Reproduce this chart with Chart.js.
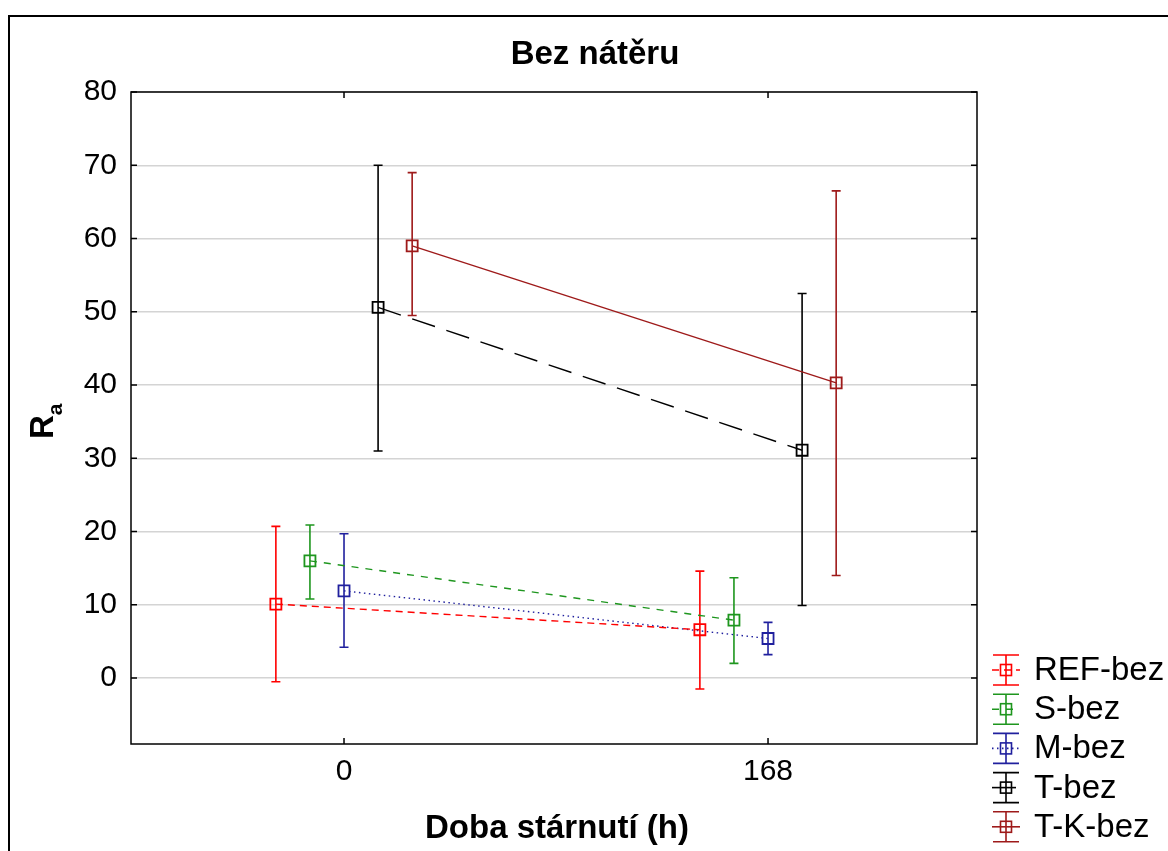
<!DOCTYPE html>
<html>
<head>
<meta charset="utf-8">
<script src="https://cdn.jsdelivr.net/npm/chart.js@4.4.1/dist/chart.umd.min.js"></script>
<style>
  html, body { margin: 0; padding: 0; background: #fff; }
  #wrap { position: relative; width: 1168px; height: 851px; }
</style>
</head>
<body>
<div id="wrap"><canvas id="chart"></canvas></div>
<script>
const times = [0, 168]
const yTicks = [0, 10, 20, 30, 40, 50, 60, 70, 80]
const seriesNames = ['REF-bez', 'S-bez', 'M-bez', 'T-bez', 'T-K-bez']
// small shift in hours so the groups don't overlap
const dodge = [-27, -13.5, 0, 13.5, 27]

const refMean = [10.1, 6.6]
const refLow = [-0.5, -1.5]
const refHigh = [20.7, 14.6]

const sMean = [16.0, 7.9]
const sLow = [10.8, 2.0]
const sHigh = [20.9, 13.7]

const mMean = [11.9, 5.4]
const mLow = [4.2, 3.2]
const mHigh = [19.7, 7.6]

const tMean = [50.6, 31.1]
const tLow = [31.0, 9.9]
const tHigh = [70.0, 52.5]

const tkMean = [59.0, 40.3]
const tkLow = [49.5, 14.0]
const tkHigh = [69.0, 66.5]

const FONT = "'Liberation Sans', Arial, sans-serif"

const styles = [
  { color: '#ff0000', dash: [7, 5] },
  { color: '#1e961e', dash: [7, 7] },
  { color: '#20209e', dash: [1.5, 3.5] },
  { color: '#000000', dash: [24, 12] },
  { color: '#9e1a1a', dash: [] }
]

function makeSeries(i, mean, low, high) {
  return {
    label: seriesNames[i],
    data: times.map((t, j) => ({ x: t + dodge[i], y: mean[j] })),
    errLow: low,
    errHigh: high,
    borderColor: styles[i].color,
    borderDash: styles[i].dash,
    borderWidth: 1.4,
    showLine: true,
    tension: 0,
    pointStyle: 'rect',
    pointRadius: 7.8,
    pointHoverRadius: 7.8,
    pointBorderWidth: 1.8,
    pointBackgroundColor: 'rgba(0,0,0,0)',
    pointBorderColor: styles[i].color
  }
}

const errorBars = {
  id: 'errorBars',
  beforeDatasetsDraw(chart) {
    const ctx = chart.ctx
    const ys = chart.scales.y
    chart.data.datasets.forEach((ds, i) => {
      const meta = chart.getDatasetMeta(i)
      ctx.save()
      ctx.strokeStyle = ds.borderColor
      ctx.lineWidth = 1.6
      meta.data.forEach((pt, j) => {
        const top = ys.getPixelForValue(ds.errHigh[j])
        const bot = ys.getPixelForValue(ds.errLow[j])
        ctx.beginPath()
        ctx.moveTo(pt.x, top)
        ctx.lineTo(pt.x, bot)
        ctx.moveTo(pt.x - 4.5, top)
        ctx.lineTo(pt.x + 4.5, top)
        ctx.moveTo(pt.x - 4.5, bot)
        ctx.lineTo(pt.x + 4.5, bot)
        ctx.stroke()
      })
      ctx.restore()
    })
  }
}

const decorations = {
  id: 'decorations',
  afterDraw(chart) {
    const ctx = chart.ctx
    const a = chart.chartArea
    const xs = chart.scales.x
    const ys = chart.scales.y
    ctx.save()

    // outer figure frame
    ctx.strokeStyle = '#000'
    ctx.lineWidth = 2
    ctx.beginPath()
    ctx.moveTo(9, 851)
    ctx.lineTo(9, 16)
    ctx.lineTo(1168, 16)
    ctx.stroke()

    // plot frame + inward ticks
    ctx.lineWidth = 1.5
    ctx.strokeRect(a.left, a.top, a.right - a.left, a.bottom - a.top)
    ctx.beginPath()
    ys.ticks.forEach(t => {
      const py = ys.getPixelForValue(t.value)
      ctx.moveTo(a.left, py); ctx.lineTo(a.left + 6, py)
      ctx.moveTo(a.right, py); ctx.lineTo(a.right - 6, py)
    })
    xs.ticks.forEach(t => {
      const px = xs.getPixelForValue(t.value)
      ctx.moveTo(px, a.bottom); ctx.lineTo(px, a.bottom - 6)
      ctx.moveTo(px, a.top); ctx.lineTo(px, a.top + 6)
    })
    ctx.stroke()

    // titles
    ctx.fillStyle = '#000'
    ctx.textAlign = 'center'
    ctx.textBaseline = 'alphabetic'
    ctx.font = 'bold 33px ' + FONT
    ctx.fillText('Bez nátěru', 595, 64)
    ctx.font = 'bold 33px ' + FONT
    ctx.fillText('Doba stárnutí (h)', (a.left + a.right) / 2 + 3, 838)

    // y title: R with subscript a
    ctx.save()
    ctx.translate(53, 439)
    ctx.rotate(-Math.PI / 2)
    ctx.textAlign = 'left'
    ctx.font = 'bold 33px ' + FONT
    ctx.fillText('R', 0, 0)
    const rw = ctx.measureText('R').width
    ctx.font = 'bold 21px ' + FONT
    ctx.fillText('a', rw, 9)
    ctx.restore()

    // legend
    chart.data.datasets.forEach((ds, i) => {
      const cy = 670 + i * 39.2
      const cx = 1006
      ctx.strokeStyle = ds.borderColor
      ctx.lineWidth = 1.6
      ctx.setLineDash(ds.borderDash)
      ctx.beginPath()
      ctx.moveTo(cx - 14, cy)
      ctx.lineTo(cx + 14, cy)
      ctx.stroke()
      ctx.setLineDash([])
      ctx.beginPath()
      ctx.moveTo(cx, cy - 15); ctx.lineTo(cx, cy + 15)
      ctx.moveTo(cx - 13, cy - 15); ctx.lineTo(cx + 13, cy - 15)
      ctx.moveTo(cx - 13, cy + 15); ctx.lineTo(cx + 13, cy + 15)
      ctx.stroke()
      ctx.strokeRect(cx - 5.5, cy - 5.5, 11, 11)
      ctx.fillStyle = '#000'
      ctx.textAlign = 'left'
      ctx.textBaseline = 'middle'
      ctx.font = '33px ' + FONT
      ctx.fillText(ds.label, 1034, cy + 1)
    })

    ctx.restore()
  }
}

new Chart(document.getElementById('chart').getContext('2d'), {
  type: 'scatter',
  data: {
    datasets: [
      makeSeries(0, refMean, refLow, refHigh),
      makeSeries(1, sMean, sLow, sHigh),
      makeSeries(2, mMean, mLow, mHigh),
      makeSeries(3, tMean, tLow, tHigh),
      makeSeries(4, tkMean, tkLow, tkHigh)
    ]
  },
  options: {
    responsive: true,
    maintainAspectRatio: false,
    animation: false,
    layout: { padding: { top: 92, right: 191, left: 0, bottom: 0 } },
    plugins: {
      legend: { display: false },
      title: { display: false },
      tooltip: { enabled: false }
    },
    scales: {
      x: {
        type: 'linear',
        min: -84.4,
        max: 250.8,
        afterBuildTicks: s => { s.ticks = times.map(v => ({ value: v })) },
        afterFit: s => { s.height = 107 },
        grid: { display: false, drawTicks: false },
        border: { display: false },
        ticks: {
          color: '#000',
          font: { family: FONT, size: 30 },
          padding: 10,
          maxRotation: 0,
          autoSkip: false
        }
      },
      y: {
        min: -9,
        max: 80,
        afterBuildTicks: s => { s.ticks = yTicks.map(v => ({ value: v })) },
        afterFit: s => { s.width = 131 },
        grid: { color: '#d4d4d4', lineWidth: 1.5, drawTicks: false },
        border: { display: false },
        ticks: {
          color: '#000',
          font: { family: FONT, size: 30 },
          padding: 14
        }
      }
    }
  },
  plugins: [errorBars, decorations]
})
</script>
</body>
</html>
